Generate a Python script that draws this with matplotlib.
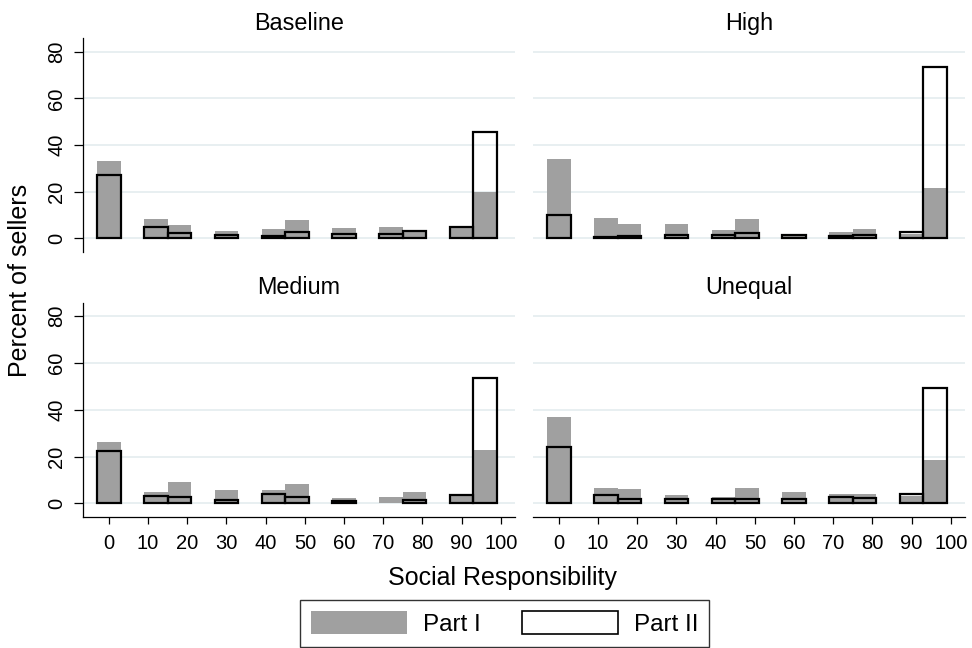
import numpy as np
import matplotlib
matplotlib.use("Agg")
import matplotlib.pyplot as plt
from matplotlib.patches import Patch

plt.rcParams['font.family'] = ['Liberation Sans', 'DejaVu Sans']

# Bin centres of Social Responsibility histogram (bin width 6)
bin_centers = [0, 12, 18, 30, 42, 48, 60, 72, 78, 90, 96]
bin_width = 6

panels = ["Baseline", "High", "Medium", "Unequal"]

baseline_part1 = [33.1, 8.4, 5.7, 3.3, 3.9, 8.1, 4.6, 5.1, 3.0, 4.3, 19.9]
baseline_part2 = [27.3, 4.9, 2.3, 1.4, 1.0, 2.7, 2.0, 1.9, 3.3, 4.9, 45.7]
high_part1 = [33.9, 8.6, 6.3, 6.3, 3.7, 8.3, 1.6, 2.6, 4.0, 1.9, 21.6]
high_part2 = [10.1, 0.7, 1.0, 1.3, 1.6, 2.3, 1.3, 1.1, 1.6, 2.6, 73.7]
medium_part1 = [26.1, 5.0, 9.0, 5.9, 5.9, 8.3, 2.3, 2.7, 5.0, 3.0, 23.0]
medium_part2 = [22.6, 3.0, 2.6, 1.3, 4.1, 2.6, 0.9, 0.0, 1.3, 3.6, 53.6]
unequal_part1 = [36.9, 6.6, 6.3, 3.4, 2.7, 6.7, 5.0, 4.0, 4.1, 3.3, 18.7]
unequal_part2 = [24.3, 3.7, 2.0, 1.7, 1.7, 1.9, 1.7, 2.7, 2.4, 4.0, 49.3]

part1 = [baseline_part1, high_part1, medium_part1, unequal_part1]
part2 = [baseline_part2, high_part2, medium_part2, unequal_part2]

x_ticks = [0, 10, 20, 30, 40, 50, 60, 70, 80, 90, 100]
y_ticks = [0, 20, 40, 60, 80]

GRAY = '#a0a0a0'
GRID = '#e6eef0'

W, H = 972, 648
fig = plt.figure(figsize=(W / 100, H / 100), dpi=100)

# axes rectangles in pixels: (left, top, right, bottom)
rects = [
    (83, 38.3, 515, 251.7),
    (533, 38.3, 965, 251.7),
    (83, 302.7, 515, 516.7),
    (533, 302.7, 965, 516.7),
]

for i, (name, p1, p2, r) in enumerate(zip(panels, part1, part2, rects)):
    l, t, rr, b = r
    ax = fig.add_axes([l / W, 1 - b / H, (rr - l) / W, (b - t) / H])
    x = np.array(bin_centers, dtype=float)
    h1 = np.array(p1)
    h2 = np.array(p2)
    ax.bar(x, h1, width=bin_width, color=GRAY, edgecolor='none', zorder=2)
    m = h2 > 0
    ax.bar(x[m], h2[m], width=bin_width, facecolor='none', edgecolor='black',
           linewidth=1.6, zorder=3)
    ax.set_xlim(-6.6, 103.6)
    ax.set_ylim(-5.7, 85.8)
    ax.set_yticks(y_ticks)
    ax.yaxis.grid(True, color=GRID, linewidth=1.3, zorder=0)
    ax.set_axisbelow(True)
    for s in ['top', 'right']:
        ax.spines[s].set_visible(False)
    col = i % 2
    row = i // 2
    if col == 0:
        ax.spines['left'].set_linewidth(0.9)
        ax.tick_params(axis='y', length=6.5, width=0.9, pad=5.5, labelsize=14.5,
                       labelrotation=90)
        for lab in ax.get_yticklabels():
            lab.set_va('center')
    else:
        ax.spines['left'].set_visible(False)
        ax.tick_params(axis='y', left=False, labelleft=False)
    if row == 1:
        ax.set_xticks(x_ticks)
        ax.spines['bottom'].set_linewidth(0.9)
        ax.tick_params(axis='x', length=5, width=0.9, pad=7.5, labelsize=14.5)
    else:
        ax.spines['bottom'].set_visible(False)
        ax.tick_params(axis='x', bottom=False, labelbottom=False)
    ax.set_title(name, fontsize=16.8, pad=6)

fig.text(502 / W, 1 - 585 / H, "Social Responsibility", fontsize=18,
         ha='center', va='baseline')
fig.text(20 / W, 1 - 280.5 / H, "Percent of sellers", fontsize=18,
         ha='center', va='center', rotation=90)

handles = [Patch(facecolor=GRAY, edgecolor='none', label='Part I'),
           Patch(facecolor='white', edgecolor='black', linewidth=1.2, label='Part II')]
leg = fig.legend(handles=handles, loc='center', ncol=2,
                 bbox_to_anchor=(504.5 / W, 1 - 623.5 / H),
                 fontsize=17.5, frameon=True, fancybox=False, shadow=False,
                 handlelength=3.95, handleheight=1.03, handletextpad=0.66,
                 columnspacing=1.69, borderpad=0.45)
leg.get_frame().set_edgecolor('black')
leg.get_frame().set_linewidth(1.0)

fig.savefig('out.png', dpi=100, facecolor='white')
